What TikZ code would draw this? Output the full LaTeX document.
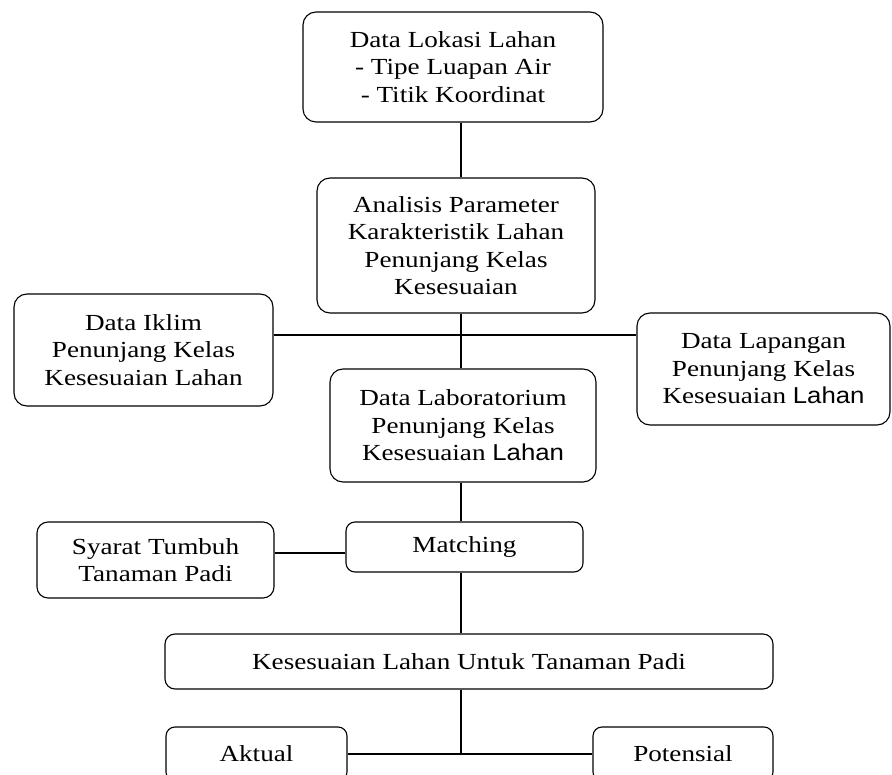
\documentclass[tikz,border=0pt]{standalone}
\usepackage{fontspec}
\setmainfont{Liberation Serif}[FakeStretch=1.18]
\newfontfamily\lahansans{Liberation Sans}[FakeStretch=1.12]
\begin{document}
\begin{tikzpicture}[x=1pt,y=-1pt,
  box/.style={draw, line width=1.1pt, rounded corners=13pt, align=center,
    inner sep=0pt, font=\fontsize{23}{27.5}\selectfont},
  link/.style={line width=1.1pt}]
\useasboundingbox (0,0) rectangle (892,775);
\fill[white] (0,0) rectangle (892,775);
\node[box, minimum width=300pt, minimum height=110pt] (lok) at (453,67)
  {Data Lokasi Lahan\\- Tipe Luapan Air\\- Titik Koordinat};
\node[box, minimum width=278pt, minimum height=135pt] (ana) at (456,245.5)
  {Analisis Parameter\\Karakteristik Lahan\\Penunjang Kelas\\Kesesuaian};
\node[box, minimum width=259pt, minimum height=112pt] (ikl) at (143.5,350)
  {Data Iklim\\Penunjang Kelas\\Kesesuaian Lahan};
\node[box, minimum width=253pt, minimum height=112pt] (lap) at (763.5,369)
  {Data Lapangan\\Penunjang Kelas\\Kesesuaian {\lahansans Lahan}};
\node[box, minimum width=266pt, minimum height=113pt] (lab) at (463,425.5)
  {Data Laboratorium\\Penunjang Kelas\\Kesesuaian {\lahansans Lahan}};
\node[box, rounded corners=11pt, minimum width=237pt, minimum height=76pt] (sya) at (155.5,560)
  {Syarat Tumbuh\\Tanaman Padi};
\node[box, rounded corners=9pt, minimum width=237pt, minimum height=50pt] (mat) at (464.5,547)
  {Matching};
\node[box, rounded corners=10pt, minimum width=608pt, minimum height=55pt] (kes) at (469,661.5)
  {Kesesuaian Lahan Untuk Tanaman Padi};
\node[box, rounded corners=9pt, minimum width=181pt, minimum height=54pt] (akt) at (256.5,754)
  {Aktual};
\node[box, rounded corners=9pt, minimum width=180pt, minimum height=54pt] (pot) at (683,754)
  {Potensial};
\coordinate (spine) at (461,0);
\coordinate (hrow) at (0,335);
\coordinate (srow) at (0,553);
\coordinate (brow) at (0,754);
\draw[link] (lok.south -| spine) -- (ana.north -| spine);
\draw[link] (ana.south -| spine) -- (lab.north -| spine);
\draw[link] (ikl.east |- hrow) -- (lap.west |- hrow);
\draw[link] (lab.south -| spine) -- (mat.north -| spine);
\draw[link] (sya.east |- srow) -- (mat.west |- srow);
\draw[link] (mat.south -| spine) -- (kes.north -| spine);
\draw[link] (kes.south -| spine) -- (spine |- brow);
\draw[link] (akt.east |- brow) -- (pot.west |- brow);
\end{tikzpicture}
\end{document}
